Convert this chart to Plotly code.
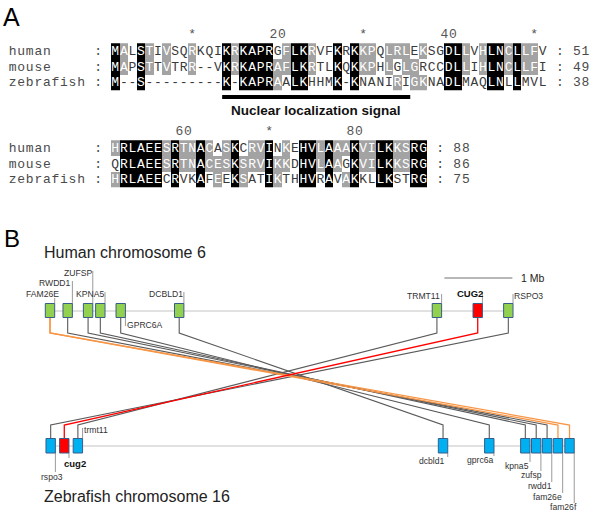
import plotly.graph_objects as go

# ---------------- Panel A data ----------------
species = ["human", "mouse", "zebrafish"]
seq_block1 = [
    "MALSTIVSQRKQIKRKAPRGFLKRVFKRKKPQLRLEKSGDLLVHLNCLLFV",
    "MAPSTTVTRR--VKRKAPRAFLKRTLKQKKPHLGLGRCCDLLIHLNCLLFI",
    "M--S---------K-KAPRAALKHHMK-KNANIRIGKNADLMAQLNLLMVL",
]
seq_block2 = [
    "HRLAEESRTNACASKCRVINKEHVLAAAKVILKKSRG",
    "QRLAEESRTNACESKSRVIKKDHVLAAGKVILKKSRG",
    "HRLAEECRVKAFEEKSATIKTHHVRAVAKKLLKSTRG",
]
block1_end = [51, 49, 38]
block2_end = [88, 86, 75]
ruler_block1_pos = [10, 20, 30, 40, 50]
ruler_block1_lab = ["*", "20", "*", "40", "*"]
ruler_block2_pos = [60, 70, 80]
ruler_block2_lab = ["60", "*", "80"]
nls_cols = [14, 35]
nls_label = "Nuclear localization signal"

# ---------------- Panel B data ----------------
human_genes = ["FAM26E", "RWDD1", "ZUFSP", "KPNA5", "GPRC6A", "DCBLD1", "TRMT11", "CUG2", "RSPO3"]
human_mb = [0.00, 0.26, 0.56, 0.74, 1.04, 1.90, 5.69, 6.29, 6.74]
zf_genes = ["rspo3", "cug2", "trmt11", "dcbld1", "gprc6a", "kpna5", "zufsp", "rwdd1", "fam26e", "fam26f"]
zf_mb = [0.01, 0.21, 0.41, 5.78, 6.46, 6.99, 7.15, 7.31, 7.47, 7.64]
link_human = ["RWDD1", "ZUFSP", "KPNA5", "GPRC6A", "DCBLD1", "TRMT11", "RSPO3", "FAM26E", "FAM26E", "CUG2"]
link_zf = ["rwdd1", "zufsp", "kpna5", "gprc6a", "dcbld1", "trmt11", "rspo3", "fam26e", "fam26f", "cug2"]
scale_bar_mb = 1.0
scale_bar_start_mb = 5.80
scale_bar_label = "1 Mb"

# ---------------- styles / layout constants ----------------
W, H = 600, 528
PX_PER_COL = 8.55
SEQ_X0 = 111.0           # px of left edge of first residue column
MONO = "Liberation Mono, Courier New, monospace"
SANS = "Liberation Sans, Arial, sans-serif"
GRAY_SHADE = "#a3a3a3"
TXT = "#3a3a3a"
rows_block1 = [52.0, 67.5, 83.0]
rows_block2 = [149.0, 164.5, 180.0]

PX_PER_MB = 68.0
MB_ORIGIN_PX = 50.0
HUMAN_Y = 311.0
ZF_Y = 446.0
H_BOX = (303.5, 317.5)
Z_BOX = (438.5, 453.0)
BOX_HALF = 4.7
H_DROP = 333.0
Z_RISE = 425.0

human_label_style = {
    "FAM26E": dict(dx=10, anchor="right", y=294, lead=(298, H_BOX[0])),
    "RWDD1": dict(dx=4.5, anchor="right", y=283, lead=(281, H_BOX[0])),
    "ZUFSP": dict(dx=4.5, anchor="right", y=273, lead=(271, H_BOX[0])),
    "KPNA5": dict(dx=4.5, anchor="right", y=294, lead=(292, H_BOX[0])),
    "GPRC6A": dict(dx=5.5, anchor="left", y=325, lead=(H_BOX[1], 326), below=True),
    "DCBLD1": dict(dx=4.5, anchor="right", y=294, lead=(292, H_BOX[0])),
    "TRMT11": dict(dx=4, anchor="right", y=296, lead=(294, H_BOX[0])),
    "CUG2": dict(dx=6.5, anchor="right", y=293, lead=(292, H_BOX[0]), bold=True),
    "RSPO3": dict(dx=5, anchor="left", y=296, lead=(294, H_BOX[0])),
}
zf_label_style = {
    "rspo3": dict(dx=1, anchor="center", y=477, lead=(Z_BOX[1], 472)),
    "cug2": dict(dx=-1.5, anchor="left", y=463, lead=(Z_BOX[1], 458), bold=True),
    "trmt11": dict(dx=5.5, anchor="left", y=430, lead=(428, Z_BOX[0])),
    "dcbld1": dict(dx=2.5, anchor="right", y=461, lead=(Z_BOX[1], 457)),
    "gprc6a": dict(dx=4.5, anchor="right", y=460, lead=(Z_BOX[1], 456)),
    "kpna5": dict(dx=4.5, anchor="right", y=466, lead=(Z_BOX[1], 462)),
    "zufsp": dict(dx=7, anchor="right", y=475, lead=(Z_BOX[1], 471)),
    "rwdd1": dict(dx=5.5, anchor="right", y=486, lead=(Z_BOX[1], 482)),
    "fam26e": dict(dx=5.5, anchor="right", y=497, lead=(Z_BOX[1], 493)),
    "fam26f": dict(dx=8, anchor="right", y=507, lead=(Z_BOX[1], 503)),
}
highlight_red = {"CUG2", "cug2"}
highlight_orange_zf = {"fam26e", "fam26f"}

fig = go.Figure()


def shading(block):
    n = len(block[0])
    z = [[None] * n for _ in block]
    for c in range(n):
        col = [s[c] for s in block]
        if "-" not in col and len(set(col)) == 1:
            for r in range(len(block)):
                z[r][c] = 2
        else:
            for r, ch in enumerate(col):
                if ch != "-" and col.count(ch) >= 2:
                    z[r][c] = 1
    return z


def draw_block(block, rows_y, ends, ruler_pos, ruler_lab, first_col):
    n = len(block[0])
    z = shading(block)
    cols = list(range(1, n + 1))
    fig.add_trace(go.Heatmap(
        x=cols, y=[y - 1.0 for y in rows_y], z=z, xaxis="x", yaxis="y",
        zmin=1, zmax=2, showscale=False, hoverinfo="skip",
        colorscale=[[0, GRAY_SHADE], [0.5, GRAY_SHADE], [0.5, "#000000"], [1, "#000000"]],
    ))
    for r, seq in enumerate(block):
        colors = ["#ffffff" if z[r][c] is not None else TXT for c in range(n)]
        fig.add_trace(go.Scatter(
            x=cols, y=[rows_y[r]] * n, text=list(seq), mode="text",
            textposition="middle center", xaxis="x", yaxis="y",
            textfont=dict(family=MONO, size=13, color=colors), hoverinfo="skip",
        ))
        left = f"{species[r]:<10}:"
        right = f": {ends[r]}"
        lx = list(range(-len(left), 0))
        rx = list(range(n + 2, n + 2 + len(right)))
        fig.add_trace(go.Scatter(
            x=lx + rx, y=[rows_y[r]] * (len(lx) + len(rx)),
            text=list(left) + list(right), mode="text", textposition="middle center",
            xaxis="x", yaxis="y", textfont=dict(family=MONO, size=13, color="#4a4a4a"),
            hoverinfo="skip",
        ))
    # ruler
    rx, rt = [], []
    for p, lab in zip(ruler_pos, ruler_lab):
        d = p - first_col + 1
        if len(lab) == 1:
            rx.append(d); rt.append(lab)
        else:
            for k, ch in enumerate(lab):
                rx.append(d - (len(lab) - 1) / 2 + k); rt.append(ch)
    fig.add_trace(go.Scatter(
        x=rx, y=[rows_y[0] - 17] * len(rx), text=rt, mode="text",
        textposition="middle center", xaxis="x", yaxis="y",
        textfont=dict(family=MONO, size=13, color="#555555"), hoverinfo="skip",
    ))


draw_block(seq_block1, rows_block1, block1_end, ruler_block1_pos, ruler_block1_lab, 1)
draw_block(seq_block2, rows_block2, block2_end, ruler_block2_pos, ruler_block2_lab, 52)

# NLS bar
fig.add_trace(go.Scatter(
    x=[nls_cols[0] - 0.5, nls_cols[1] + 0.5], y=[97, 97], mode="lines",
    line=dict(color="#000000", width=4), xaxis="x", yaxis="y", hoverinfo="skip",
))
fig.add_annotation(x=(nls_cols[0] + nls_cols[1]) / 2, y=110, xref="x", yref="y",
                   text=f"<b>{nls_label}</b>", showarrow=False,
                   font=dict(family=SANS, size=13.5, color="#111111"))

# ---------------- Panel B ----------------
hpos = dict(zip(human_genes, human_mb))
zpos = dict(zip(zf_genes, zf_mb))

shapes = []
# chromosome lines
shapes.append(dict(type="line", xref="x2", yref="y", x0=min(human_mb), x1=max(human_mb),
                   y0=HUMAN_Y, y1=HUMAN_Y, line=dict(color="#c4c4c4", width=1.2), layer="below"))
shapes.append(dict(type="line", xref="x2", yref="y", x0=min(zf_mb), x1=max(zf_mb),
                   y0=ZF_Y, y1=ZF_Y, line=dict(color="#c4c4c4", width=1.2), layer="below"))

# links
for order in ["gray", "orange", "red"]:
    for hg, zg in zip(link_human, link_zf):
        if hg in highlight_red:
            col = "red"
        elif zg in highlight_orange_zf:
            col = "orange"
        else:
            col = "gray"
        if col != order:
            continue
        color = {"gray": "#5a5a5a", "orange": "#f79646", "red": "#ff0000"}[col]
        fig.add_trace(go.Scatter(
            x=[hpos[hg], hpos[hg], zpos[zg], zpos[zg]],
            y=[H_BOX[1], H_DROP, Z_RISE, Z_BOX[0]],
            mode="lines", line=dict(color=color, width=1.1 if col == "gray" else 1.3),
            xaxis="x2", yaxis="y", hoverinfo="skip",
        ))

# leader lines + labels
def add_labels(genes, posd, styles):
    for g in genes:
        st = styles[g]
        p = posd[g]
        shapes.append(dict(type="line", xref="x2", yref="y", xsizemode="pixel", xanchor=p,
                           x0=BOX_HALF, x1=BOX_HALF, y0=st["lead"][0], y1=st["lead"][1],
                           line=dict(color="#9a9a9a", width=1)))
        bold = st.get("bold", False)
        txt = f"<b>{g}</b>" if bold else g
        fig.add_annotation(x=p, xref="x2", y=st["y"], yref="y", text=txt, showarrow=False,
                           xanchor=st["anchor"], xshift=st["dx"], borderpad=0,
                           font=dict(family=SANS, size=9.5 if bold else 8.6,
                                     color="#111111" if bold else "#333333"))

add_labels(human_genes, hpos, human_label_style)
add_labels(zf_genes, zpos, zf_label_style)

# boxes
for g in human_genes:
    fill = "#ff0000" if g in highlight_red else "#92d050"
    shapes.append(dict(type="rect", xref="x2", yref="y", xsizemode="pixel", xanchor=hpos[g],
                       x0=-BOX_HALF, x1=BOX_HALF, y0=H_BOX[0], y1=H_BOX[1],
                       fillcolor=fill, line=dict(color="#385d8a", width=1)))
for g in zf_genes:
    fill = "#ff0000" if g in highlight_red else "#00b0f0"
    shapes.append(dict(type="rect", xref="x2", yref="y", xsizemode="pixel", xanchor=zpos[g],
                       x0=-BOX_HALF, x1=BOX_HALF, y0=Z_BOX[0], y1=Z_BOX[1],
                       fillcolor=fill, line=dict(color="#385d8a", width=1)))

# scale bar
shapes.append(dict(type="line", xref="x2", yref="y", x0=scale_bar_start_mb,
                   x1=scale_bar_start_mb + scale_bar_mb, y0=278, y1=278,
                   line=dict(color="#a0a0a0", width=1.6)))
fig.add_annotation(x=scale_bar_start_mb + scale_bar_mb, xref="x2", y=278, yref="y",
                   text=scale_bar_label, showarrow=False, xanchor="left", xshift=8, borderpad=0,
                   font=dict(family=SANS, size=10.5, color="#222222"))

# titles and panel letters
fig.add_annotation(x=43 / W, xref="paper", y=252, yref="y", text="Human chromosome 6",
                   showarrow=False, xanchor="left", borderpad=0,
                   font=dict(family=SANS, size=16, color="#222222"))
fig.add_annotation(x=43 / W, xref="paper", y=496, yref="y", text="Zebrafish chromosome 16",
                   showarrow=False, xanchor="left", borderpad=0,
                   font=dict(family=SANS, size=16, color="#222222"))
fig.add_annotation(x=2 / W, xref="paper", y=17, yref="y", text="A",
                   showarrow=False, xanchor="left", borderpad=0,
                   font=dict(family=SANS, size=25, color="#000000"))
fig.add_annotation(x=3 / W, xref="paper", y=238, yref="y", text="B",
                   showarrow=False, xanchor="left", borderpad=0,
                   font=dict(family=SANS, size=24, color="#000000"))

x_lo = 0.5 - SEQ_X0 / PX_PER_COL
x_hi = 0.5 + (W - SEQ_X0) / PX_PER_COL
fig.update_layout(
    width=W, height=H, margin=dict(l=0, r=0, t=0, b=0),
    paper_bgcolor="white", plot_bgcolor="white", showlegend=False,
    xaxis=dict(range=[x_lo, x_hi], visible=False, domain=[0, 1], fixedrange=True),
    xaxis2=dict(range=[-MB_ORIGIN_PX / PX_PER_MB, (W - MB_ORIGIN_PX) / PX_PER_MB],
                overlaying="x", visible=False, fixedrange=True),
    yaxis=dict(range=[H, 0], visible=False, domain=[0, 1], fixedrange=True),
    shapes=shapes,
)

fig.write_html("out.html", config={"displayModeBar": False},
               post_script="document.body.style.margin='0px';")
